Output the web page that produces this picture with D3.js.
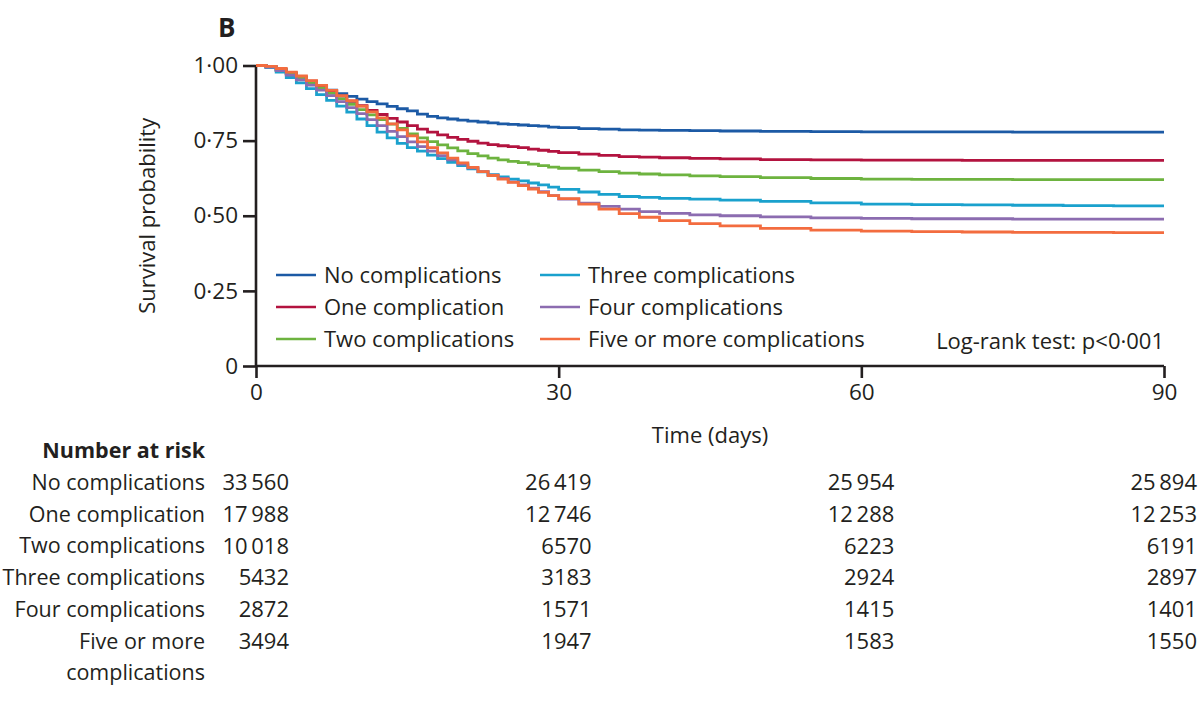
<!DOCTYPE html>
<html>
<head>
<meta charset="utf-8">
<script src="https://cdn.jsdelivr.net/npm/d3@7"></script>
<style>
body { margin: 0; background: #fff; }
svg { font-family: "Open Sans", sans-serif; }
</style>
</head>
<body>
<svg width="1200" height="718"></svg>
<script>
// time points (days) of the read-off survival estimates
const days = [0,1,2,3,4,5,6,7,8,9,10,11,12,13,14,15,16,17,18,19,20,21,22,23,24,25,26,27,28,29,30,
              32,34,36,38,40,43,46,50,55,60,65,70,75,80,85,90]

const survNone  = [1,0.995,0.985,0.972,0.958,0.945,0.932,0.918,0.906,0.897,0.888,0.88,0.872,0.864,0.856,0.849,0.838,0.831,0.826,0.822,0.818,0.815,0.812,0.809,0.806,0.804,0.802,0.8,0.798,0.795,0.793,
                   0.79,0.788,0.786,0.785,0.784,0.783,0.782,0.781,0.78,0.779,0.779,0.779,0.778,0.778,0.778,0.778]
const survOne   = [1,0.995,0.986,0.975,0.962,0.948,0.932,0.915,0.898,0.881,0.866,0.851,0.837,0.824,0.812,0.8,0.788,0.778,0.769,0.761,0.754,0.748,0.742,0.737,0.733,0.73,0.727,0.722,0.718,0.714,0.71,
                   0.705,0.701,0.697,0.695,0.693,0.691,0.689,0.687,0.686,0.685,0.685,0.684,0.684,0.684,0.684,0.684]
const survTwo   = [1,0.995,0.985,0.973,0.958,0.942,0.925,0.907,0.889,0.871,0.853,0.836,0.82,0.805,0.791,0.772,0.759,0.747,0.736,0.726,0.716,0.707,0.699,0.692,0.686,0.681,0.677,0.672,0.667,0.662,0.658,
                   0.652,0.647,0.642,0.639,0.636,0.633,0.63,0.627,0.624,0.622,0.621,0.621,0.62,0.62,0.62,0.62]
const survThree = [1,0.993,0.978,0.96,0.942,0.923,0.903,0.884,0.865,0.845,0.822,0.8,0.778,0.759,0.741,0.727,0.715,0.702,0.69,0.678,0.667,0.656,0.646,0.637,0.629,0.622,0.616,0.609,0.603,0.595,0.588,
                   0.579,0.571,0.564,0.561,0.558,0.555,0.552,0.548,0.543,0.539,0.537,0.536,0.535,0.534,0.533,0.533]
const survFour  = [1,0.995,0.983,0.968,0.952,0.935,0.918,0.9,0.88,0.86,0.84,0.82,0.8,0.781,0.763,0.746,0.73,0.715,0.7,0.686,0.672,0.659,0.647,0.635,0.624,0.613,0.603,0.592,0.58,0.567,0.555,
                   0.542,0.531,0.522,0.514,0.508,0.503,0.5,0.496,0.493,0.491,0.49,0.49,0.489,0.489,0.489,0.489]
const survFive  = [1,0.997,0.99,0.978,0.965,0.95,0.934,0.917,0.9,0.883,0.865,0.846,0.826,0.806,0.786,0.766,0.746,0.727,0.709,0.692,0.676,0.661,0.647,0.634,0.622,0.611,0.6,0.589,0.578,0.567,0.557,
                   0.539,0.522,0.507,0.495,0.484,0.474,0.466,0.458,0.452,0.449,0.447,0.446,0.445,0.445,0.444,0.444]

const groups = ["No complications", "One complication", "Two complications",
                "Three complications", "Four complications", "Five or more complications"]
const colors = ["#1c5aa5", "#b3133f", "#6db33f", "#1aa1cd", "#8c6cb0", "#f36c3f"]
const series = [survNone, survOne, survTwo, survThree, survFour, survFive]

// number at risk table
const riskTimes = [0, 30, 60, 90]
const riskNone  = [33560, 26419, 25954, 25894]
const riskOne   = [17988, 12746, 12288, 12253]
const riskTwo   = [10018, 6570, 6223, 6191]
const riskThree = [5432, 3183, 2924, 2897]
const riskFour  = [2872, 1571, 1415, 1401]
const riskFive  = [3494, 1947, 1583, 1550]
const riskRows = [riskNone, riskOne, riskTwo, riskThree, riskFour, riskFive]
const riskLabels = [["No complications"], ["One complication"], ["Two complications"],
                    ["Three complications"], ["Four complications"], ["Five or more", "complications"]]

const ink = "#231f20"
const svg = d3.select("svg")

const x = d3.scaleLinear().domain([0, 90]).range([256, 1164])
const y = d3.scaleLinear().domain([0, 1]).range([366, 65.5])

const dot = s => s.replace(".", "\u00b7")

// axes
const yAxis = svg.append("g")
    .attr("transform", `translate(${x(0)},0)`)
    .call(d3.axisLeft(y).tickValues([0, 0.25, 0.5, 0.75, 1])
        .tickSize(13).tickPadding(5)
        .tickFormat(d => d === 0 ? "0" : dot(d3.format(".2f")(d))))
const xAxis = svg.append("g")
    .attr("transform", `translate(0,${y(0)})`)
    .call(d3.axisBottom(x).tickValues([0, 30, 60, 90]).tickSize(12).tickPadding(6))

svg.selectAll(".domain, .tick line").attr("stroke", ink).attr("stroke-width", 2.6)
yAxis.select(".domain").attr("d", `M0,${y(1)}V${y(0)}`)
xAxis.select(".domain").attr("d", `M${x(0)},0H${x(90)}`)
svg.selectAll(".tick text").attr("font-size", 22.5).attr("fill", ink).attr("font-family", "Open Sans")

svg.append("text")
    .attr("transform", `translate(155,${y(0.5)}) rotate(-90)`)
    .attr("text-anchor", "middle")
    .attr("font-size", 22).attr("fill", ink)
    .text("Survival probability")

svg.append("text")
    .attr("x", x(45)).attr("y", 443)
    .attr("text-anchor", "middle")
    .attr("font-size", 22).attr("fill", ink)
    .text("Time (days)")

svg.append("text")
    .attr("x", 218).attr("y", 37)
    .attr("font-size", 26).attr("font-weight", "bold").attr("fill", ink)
    .text("B")

// survival curves
const line = d3.line()
    .x((d, i) => x(days[i]))
    .y(d => y(d))
    .curve(d3.curveStepAfter)

svg.append("g").selectAll("path")
    .data(series)
    .join("path")
    .attr("d", line)
    .attr("fill", "none")
    .attr("stroke", (d, i) => colors[i])
    .attr("stroke-width", 2.8)

// legend
const legend = svg.append("g")
const legX = [276, 540]
const legY = [275, 307, 339]
groups.forEach((g, i) => {
    const lx = legX[Math.floor(i / 3)], ly = legY[i % 3]
    legend.append("line")
        .attr("x1", lx).attr("x2", lx + 40)
        .attr("y1", ly).attr("y2", ly)
        .attr("stroke", colors[i]).attr("stroke-width", 2.6)
    legend.append("text")
        .attr("x", lx + 48).attr("y", ly)
        .attr("dy", "0.35em")
        .attr("font-size", 22).attr("fill", ink)
        .text(g)
})

svg.append("text")
    .attr("x", x(90)).attr("y", 341)
    .attr("dy", "0.35em")
    .attr("text-anchor", "end")
    .attr("font-size", 22).attr("fill", ink)
    .text("Log-rank test: p<0\u00b7001")

// number at risk
const fmtRisk = n => n >= 10000 ? d3.format(",")(n).replace(",", "\u2009") : String(n)
const rowY = d3.scaleLinear().domain([0, 1]).range([482.5, 514.2])

svg.append("text")
    .attr("x", 205).attr("y", 450)
    .attr("dy", "0.35em")
    .attr("text-anchor", "end")
    .attr("font-size", 21.5).attr("font-weight", "bold").attr("fill", ink)
    .text("Number at risk")

const table = svg.append("g").attr("font-size", 21.5).attr("fill", ink)
riskRows.forEach((row, r) => {
    riskLabels[r].forEach((lab, k) => {
        table.append("text")
            .attr("x", 205).attr("y", rowY(r + k))
            .attr("dy", "0.35em")
            .attr("text-anchor", "end")
            .text(lab)
    })
    table.selectAll(null)
        .data(row)
        .join("text")
        .attr("x", (d, i) => x(riskTimes[i]) + 33)
        .attr("y", rowY(r))
        .attr("dy", "0.35em")
        .attr("text-anchor", "end")
        .attr("font-size", 22)
        .text(d => fmtRisk(d))
})
</script>
</body>
</html>
